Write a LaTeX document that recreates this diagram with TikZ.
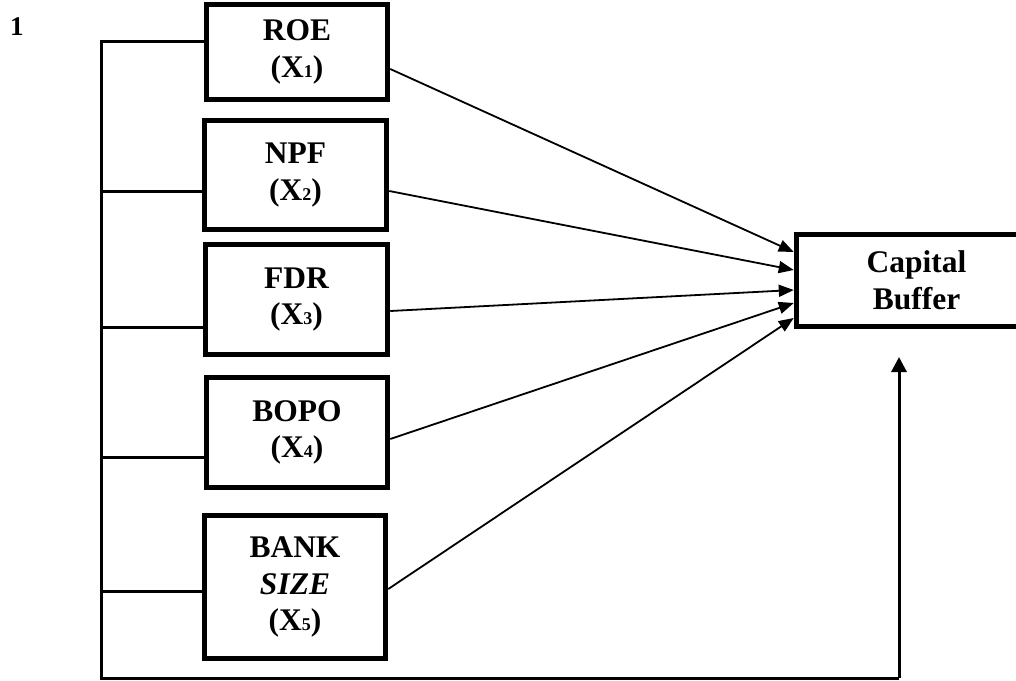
\documentclass[tikz,border=0pt]{standalone}
\usepackage{fontspec}
\setmainfont{Liberation Serif}
\usetikzlibrary{arrows.meta}
\newcommand{\sbx}[1]{{\fontsize{18}{18}\selectfont #1}}
\tikzset{
  vbox/.style={draw, line width=5.5pt, align=center, inner sep=0pt,
    font=\fontsize{31.5}{36.5}\selectfont\bfseries},
  elbow/.style={line width=3pt},
  arr/.style={line width=1.8pt, -{Triangle[length=15pt,width=12pt]}},
  uparr/.style={line width=3pt, -{Triangle[length=15pt,width=15pt]}}
}
\begin{document}
\begin{tikzpicture}[x=1pt,y=-1pt]
\useasboundingbox (0,0) rectangle (1016,680);
\node[anchor=base west, inner sep=0pt] (num) at (10,35) {\fontsize{27}{27}\selectfont\bfseries 1};
\node[vbox, minimum width=181pt, minimum height=95pt] (roe) at (297,52) {ROE\\(X\sbx{1})};
\node[vbox, minimum width=182pt, minimum height=109pt] (npf) at (295.5,175) {NPF\\(X\sbx{2})};
\node[vbox, minimum width=182pt, minimum height=110pt] (fdr) at (296.5,299.5) {FDR\\(X\sbx{3})};
\node[vbox, minimum width=181pt, minimum height=110pt] (bopo) at (297,432.5) {BOPO\\(X\sbx{4})};
\node[vbox, minimum width=181pt, minimum height=143pt] (bank) at (295,587) {BANK\\\textit{SIZE}\\(X\sbx{5})};
\node[vbox, minimum width=240pt, minimum height=92pt] (cap) at (916.5,280.5) {Capital\\Buffer};
% elbow connectors
\coordinate (top) at (101,41);
\coordinate (bl) at (101,678);
\coordinate (br) at (899,678);
\coordinate (tip) at (899,357);
\draw[elbow] (roe.west |- top) -- (top) -- (bl) -- (br);
\draw[uparr] (br) -- (tip);
\draw[elbow] (101,191) -- (npf.west |- 0,191);
\draw[elbow] (101,327) -- (fdr.west |- 0,327);
\draw[elbow] (101,457) -- (bopo.west |- 0,457);
\draw[elbow] (101,591) -- (bank.west |- 0,591);
% arrows to capital buffer
\draw[arr] (roe.east |- 0,69) -- (cap.west |- 0,252);
\draw[arr] (npf.east |- 0,191) -- (cap.west |- 0,270);
\draw[arr] (fdr.east |- 0,311) -- (cap.west |- 0,290);
\draw[arr] (bopo.east |- 0,439) -- (cap.west |- 0,303);
\draw[arr] (bank.east |- 0,589) -- (cap.west |- 0,318);
\end{tikzpicture}
\end{document}
